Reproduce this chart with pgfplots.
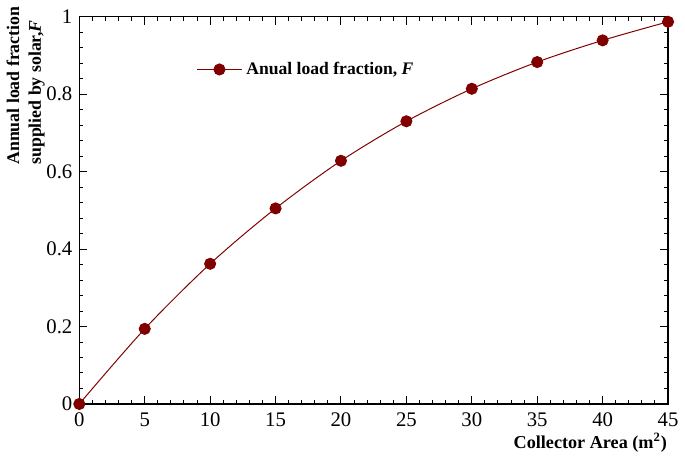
\documentclass[border=0pt]{standalone}
\usepackage{pgfplots}
\pgfplotsset{compat=1.18}
\usepackage{fontspec}
\setmainfont{Liberation Serif}
\definecolor{dred}{HTML}{800000}
\begin{document}
\begin{tikzpicture}
\begin{axis}[
  scale only axis, width=298pt, height=196pt,
  xmin=0, xmax=45, ymin=0, ymax=1,
  xtick={0,5,10,15,20,25,30,35,40,45},
  ytick={0,0.2,0.4,0.6,0.8,1},
  minor x tick num=4, minor y tick num=4,
  tick align=inside, tick pos=both,
  major tick length=4pt, minor tick length=2pt,
  every tick/.style={black, line width=0.5pt},
  axis line style={line width=0.6pt},
  /pgf/number format/assume math mode=true,
  tick label style={font=\fontsize{10.5}{12}\selectfont},
  xticklabel style={yshift=-1pt},
  xlabel={\textbf{Collector Area (m\textsuperscript{2})}},
  xlabel style={at={(rel axis cs:1,0)}, anchor=north east, yshift=-11pt, xshift=3pt, font=\fontsize{9.2}{11}\selectfont},
  ylabel={\textbf{Annual load fraction}\\\textbf{supplied by solar,\textit{F}}},
  ylabel style={at={(rel axis cs:0,0.60)}, anchor=south west, yshift=14pt, align=left, font=\fontsize{9}{11}\selectfont},
  legend style={draw=none, fill=none, at={(0.195,0.90)}, anchor=north west, font=\fontsize{8.9}{11}\selectfont\bfseries, inner sep=1pt},
  legend cell align=left,
  legend image code/.code={\draw[mark repeat=2,mark phase=2] plot coordinates {(0cm,0cm) (0.4cm,0cm) (0.8cm,0cm)};},
]
\addplot[dred, line width=0.5pt, smooth, mark=*, mark size=2.8pt, mark options={solid, fill=dred, draw=dred}]
coordinates {
(0,0) (5,0.194) (10,0.362) (15,0.505) (20,0.628) (25,0.730) (30,0.814) (35,0.883) (40,0.939) (45,0.987)
};
\addlegendentry{Anual load fraction, \textit{F}}
\end{axis}
\end{tikzpicture}
\end{document}
